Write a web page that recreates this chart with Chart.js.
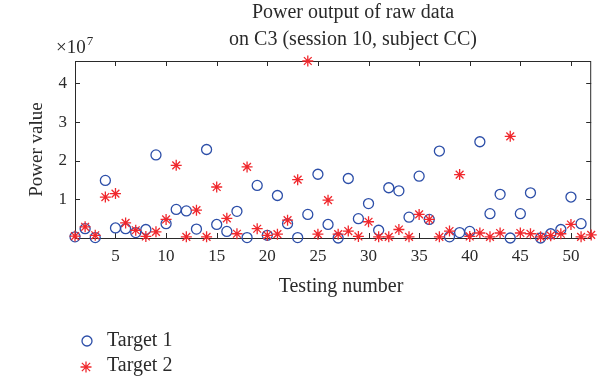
<!DOCTYPE html>
<html lang="en">
<head>
<meta charset="utf-8">
<title>Power output of raw data</title>
<script src="https://cdn.jsdelivr.net/npm/chart.js@4.4.1/dist/chart.umd.min.js"></script>
<style>
  html, body { margin: 0; padding: 0; background: #fff; }
  #conteneur { width: 598px; height: 381px; }
</style>
</head>
<body>
<div id="conteneur"><canvas id="puissanceChart"></canvas></div>
<script>
// Données (valeurs en unités de 10^7)
const numerosCible1 = [1, 2, 3, 4, 5, 6, 7, 8, 9, 10, 11, 12, 13, 14, 15, 16, 17, 18, 19, 20,
    21, 22, 23, 24, 25, 26, 27, 28, 29, 30, 31, 32, 33, 34, 35, 36, 37, 38, 39, 40,
    41, 42, 43, 44, 45, 46, 47, 48, 49, 50, 51];
const valeursCible1 = [0.03, 0.24, 0.01, 1.49, 0.26, 0.24, 0.14, 0.22, 2.15, 0.37,
    0.74, 0.70, 0.23, 2.29, 0.35, 0.17, 0.69, 0.01, 1.36, 0.07,
    1.10, 0.37, 0.01, 0.61, 1.65, 0.35, 0.00, 1.54, 0.50, 0.89,
    0.20, 1.30, 1.22, 0.54, 1.60, 0.48, 2.25, 0.03, 0.14, 0.17,
    2.49, 0.63, 1.13, 0.00, 0.63, 1.17, 0.00, 0.11, 0.22, 1.06, 0.37];
const numerosCible2 = [1, 2, 3, 4, 5, 6, 7, 8, 9, 10, 11, 12, 13, 14, 15, 16, 17, 18, 19, 20,
    21, 22, 23, 24, 25, 26, 27, 28, 29, 30, 31, 32, 33, 34, 35, 36, 37, 38, 39, 40,
    41, 42, 43, 44, 45, 46, 47, 48, 49, 50, 51, 52];
const valeursCible2 = [0.05, 0.29, 0.07, 1.06, 1.15, 0.39, 0.20, 0.04, 0.16, 0.48,
    1.88, 0.03, 0.72, 0.03, 1.32, 0.51, 0.11, 1.84, 0.24, 0.07,
    0.10, 0.46, 1.51, 4.58, 0.10, 0.98, 0.10, 0.18, 0.04, 0.42,
    0.03, 0.03, 0.22, 0.03, 0.61, 0.48, 0.03, 0.18, 1.64, 0.04,
    0.13, 0.03, 0.13, 2.63, 0.13, 0.11, 0.03, 0.06, 0.11, 0.35, 0.03, 0.08];
const ticksX = [5, 10, 15, 20, 25, 30, 35, 40, 45, 50];
const ticksY = [1, 2, 3, 4];
const nomsSeries = ["Target 1", "Target 2"];
const lignesTitre = ["Power output of raw data", "on C3 (session 10, subject CC)"];
const titreX = "Testing number";
const titreY = "Power value";
const exposant = "7";

document.addEventListener("DOMContentLoaded", function () {
    const police = "'Liberation Serif', 'DejaVu Serif', serif";
    const bleu = "#2c4ea8";
    const rouge = "#f0282d";
    const encre = "#2a2a2a";

    function versPoints(xs, ys) {
        return xs.map((x, i) => ({ x: x, y: ys[i] }));
    }

    // Petite étoile façon MATLAB (croix + diagonales)
    function dessinerEtoile(ctx, x, y, r) {
        const d = r * 0.75;
        ctx.beginPath();
        ctx.moveTo(x - r, y); ctx.lineTo(x + r, y);
        ctx.moveTo(x, y - r); ctx.lineTo(x, y + r);
        ctx.moveTo(x - d, y - d); ctx.lineTo(x + d, y + d);
        ctx.moveTo(x - d, y + d); ctx.lineTo(x + d, y - d);
        ctx.stroke();
    }

    // Cadre, graduations intérieures, titres, exposant et légende
    const habillage = {
        id: 'habillage',
        beforeDatasetsDraw(chart) {
            const { ctx, chartArea: a, scales } = chart;
            const lg = 5;
            ctx.save();
            ctx.strokeStyle = encre;
            ctx.lineWidth = 1;
            ctx.strokeRect(a.left + 0.5, a.top + 0.5, a.right - a.left - 1, a.bottom - a.top);
            ctx.beginPath();
            ticksX.forEach(v => {
                const px = Math.round(scales.x.getPixelForValue(v)) + 0.5;
                ctx.moveTo(px, a.bottom); ctx.lineTo(px, a.bottom - lg);
                ctx.moveTo(px, a.top); ctx.lineTo(px, a.top + lg);
            });
            ticksY.forEach(v => {
                const py = Math.round(scales.y.getPixelForValue(v)) + 0.5;
                ctx.moveTo(a.left, py); ctx.lineTo(a.left + lg, py);
                ctx.moveTo(a.right, py); ctx.lineTo(a.right - lg, py);
            });
            ctx.stroke();
            ctx.restore();
        },
        afterDraw(chart) {
            const { ctx, chartArea: a } = chart;
            ctx.save();
            ctx.fillStyle = encre;
            ctx.textBaseline = 'middle';

            ctx.font = "20px " + police;
            ctx.textAlign = 'center';
            ctx.fillText(lignesTitre[0], 353, 13);
            ctx.fillText(lignesTitre[1], 353, 40);
            // titre de l'axe x, un peu décalé comme sur la figure
            ctx.fillText(titreX, 341, 287);

            ctx.textAlign = 'left';
            ctx.textBaseline = 'alphabetic';
            ctx.font = "19px " + police;
            ctx.fillText("×10", a.left - 19, a.top - 8);
            const w = ctx.measureText("×10").width;
            ctx.font = "13px " + police;
            ctx.fillText(exposant, a.left - 19 + w + 1, a.top - 16);

            // légende
            ctx.textBaseline = 'middle';
            ctx.font = "20px " + police;
            ctx.lineWidth = 1.3;
            ctx.strokeStyle = bleu;
            ctx.beginPath();
            ctx.arc(87, 341, 5, 0, Math.PI * 2);
            ctx.stroke();
            ctx.strokeStyle = rouge;
            dessinerEtoile(ctx, 86, 367, 5.5);
            ctx.fillStyle = encre;
            ctx.fillText(nomsSeries[0], 107, 341);
            ctx.fillText(nomsSeries[1], 107, 366);
            ctx.restore();
        }
    };

    const ctx = document.getElementById("puissanceChart").getContext("2d");

    new Chart(ctx, {
        type: 'scatter',
        data: {
            datasets: [{
                label: nomsSeries[0],
                data: versPoints(numerosCible1, valeursCible1),
                pointStyle: 'circle',
                pointRadius: 5,
                borderColor: bleu,
                backgroundColor: 'rgba(0,0,0,0)',
                borderWidth: 1.3,
                order: 2,
                clip: false
            }, {
                label: nomsSeries[1],
                data: versPoints(numerosCible2, valeursCible2),
                pointStyle: 'star',
                pointRadius: 5.5,
                borderColor: rouge,
                backgroundColor: rouge,
                borderWidth: 1.3,
                order: 1,
                clip: false
            }]
        },
        options: {
            responsive: true,
            maintainAspectRatio: false,
            animation: false,
            events: [],
            layout: { padding: { top: 61, right: 0, bottom: 81, left: 0 } },
            plugins: {
                legend: { display: false },
                title: { display: false },
                tooltip: { enabled: false }
            },
            scales: {
                x: {
                    type: 'linear',
                    min: 1,
                    max: 52,
                    grid: { display: false, drawTicks: false },
                    border: { display: false },
                    afterBuildTicks: scale => { scale.ticks = ticksX.map(v => ({ value: v })); },
                    afterFit: scale => { scale.height = 62; },
                    ticks: {
                        color: encre,
                        padding: 8,
                        maxRotation: 0,
                        font: { family: police, size: 17 }
                    },
                    title: { display: false }
                },
                y: {
                    min: 0,
                    max: Math.max(...valeursCible2),
                    grid: { display: false, drawTicks: false },
                    border: { display: false },
                    afterBuildTicks: scale => { scale.ticks = ticksY.map(v => ({ value: v })); },
                    afterFit: scale => { scale.width = 75; },
                    ticks: {
                        color: encre,
                        padding: 8,
                        font: { family: police, size: 17 }
                    },
                    title: {
                        display: true,
                        text: titreY,
                        color: encre,
                        padding: { top: 26, bottom: 0 },
                        font: { family: police, size: 19 }
                    }
                }
            }
        },
        plugins: [habillage]
    });
});
</script>
</body>
</html>
